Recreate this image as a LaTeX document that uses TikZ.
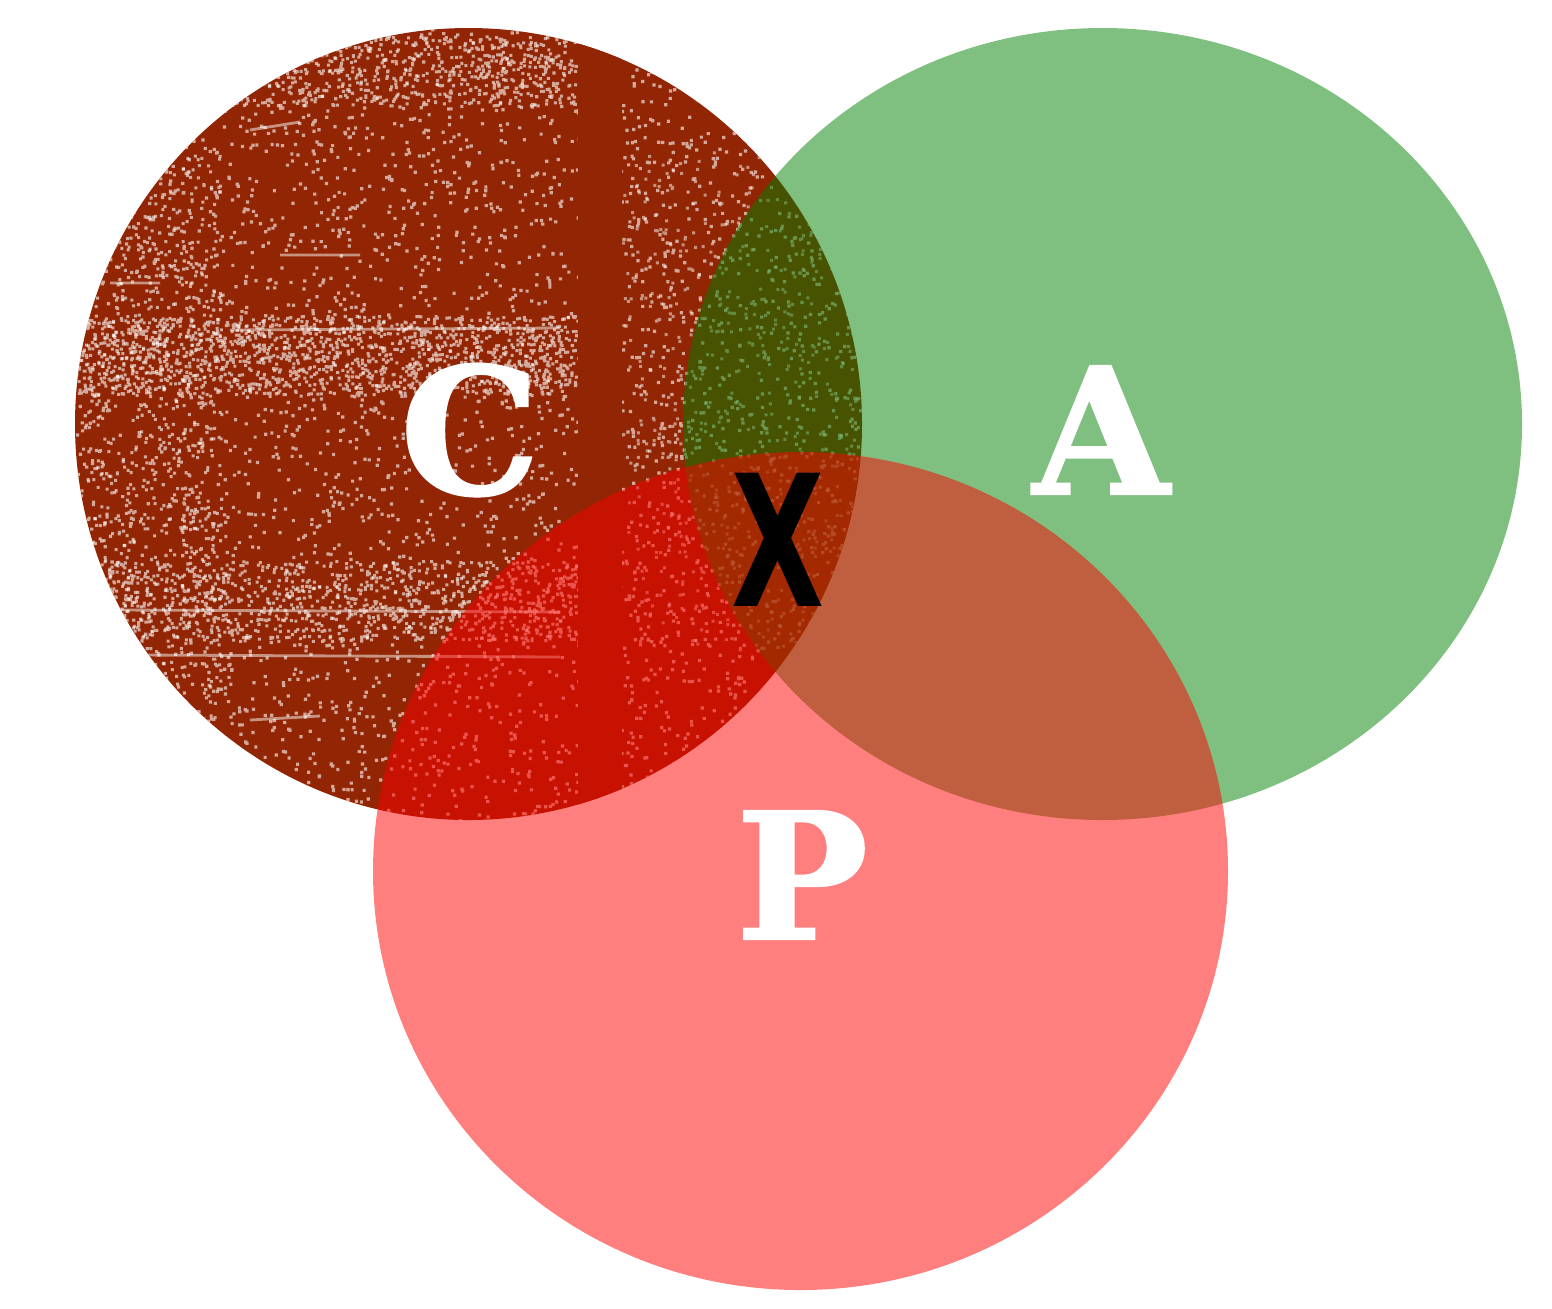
\documentclass[tikz,border=0pt]{standalone}
\usepackage{fontspec}
\newfontfamily\slabfont[FakeBold=1.2]{DejaVu Serif Bold}
\newfontfamily\xfont{DejaVu Sans}
\definecolor{cred}{RGB}{146,38,4}
\begin{document}
\begin{tikzpicture}[x=0.01cm,y=-0.01cm,
  letter/.style={text=white,font=\slabfont\fontsize{50}{50}\selectfont,inner sep=0pt,anchor=center},
  mark x/.style={text=black,font=\xfont\bfseries\fontsize{52}{52}\selectfont,inner sep=0pt,anchor=center}]
\useasboundingbox (0,0) rectangle (1552,1308);
\pgfmathsetseed{7}
% circle C, textured
\fill[cred] (468.5,424) ellipse [x radius=393.5, y radius=396];
\begin{scope}
  \clip (468.5,424) ellipse [x radius=393.5, y radius=396];
  \fill[white,opacity=0.6] foreach \i in {1,...,4200}{ ({75+787*rnd},{28+792*rnd}) rectangle +(3.2,3.2) };
  \fill[white,opacity=0.6] foreach \i in {1,...,1400}{ ({75+500*rnd},{315+80*rnd}) rectangle +(3,3) };
  \fill[white,opacity=0.6] foreach \i in {1,...,900}{ ({75+500*rnd},{35+70*rnd}) rectangle +(3,3) };
  \fill[white,opacity=0.6] foreach \i in {1,...,1000}{ ({90+500*rnd},{560+80*rnd}) rectangle +(3,3) };
  \fill[white,opacity=0.6] foreach \i in {1,...,900}{ ({80+140*rnd},{150+600*rnd}) rectangle +(3,3) };
  \fill[white,opacity=0.5] foreach \i in {1,...,700}{ ({620+240*rnd},{150+500*rnd}) rectangle +(3,3) };
  \draw[white,opacity=0.5,line width=0.8pt] (250,130) -- (300,122) (280,255) -- (360,255) (110,283) -- (160,283)
     (230,330) -- (560,328) (120,610) -- (560,612) (140,655) -- (560,657) (250,720) -- (320,716);
  \fill[cred] (578,0) rectangle (622,830);
\end{scope}
% circle A
\fill[green!50!black,fill opacity=0.5] (1102.5,424) ellipse [x radius=419.5, y radius=396];
% circle P
\fill[red,fill opacity=0.5] (800.5,871) ellipse [x radius=427.5, y radius=419];
% labels
\node[letter] (c) at (470,430) {C};
\node[letter] (a) at (1101,430) {A};
\node[letter] (p) at (802,875) {P};
\node[mark x] (x) at (778,540) {\scalebox{0.66}[1]{X}};
\end{tikzpicture}
\end{document}
